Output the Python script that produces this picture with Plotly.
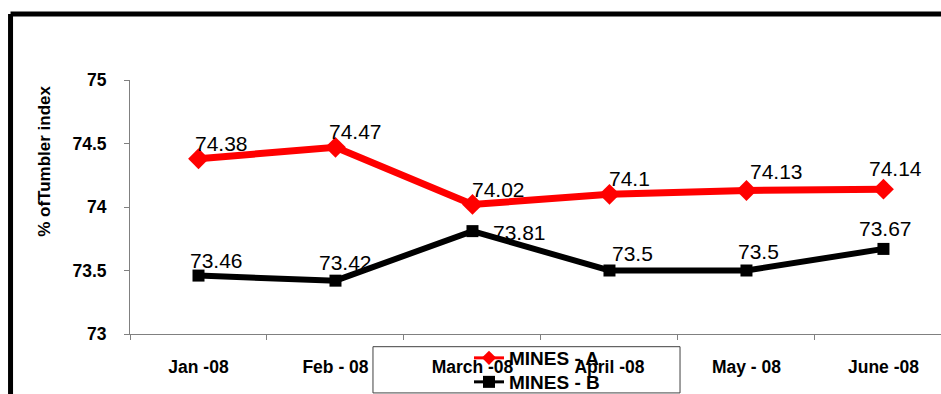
import plotly.graph_objects as go

months = ["Jan -08", "Feb - 08", "March -08", "April -08", "May - 08", "June -08"]
mines_a = [74.38, 74.47, 74.02, 74.1, 74.13, 74.14]
mines_b = [73.46, 73.42, 73.81, 73.5, 73.5, 73.67]
y_ticks = [73, 73.5, 74, 74.5, 75]

# pixel offsets of each value label from its marker
label_shift_a = [(23, 15), (20, 16), (26, 15), (20, 16), (30, 19), (12, 21)]
label_shift_b = [(18, 15), (10, 18), (47, -1), (23, 17), (12, 19), (2, 20)]

FONT = "Arial, Liberation Sans, sans-serif"
RED = "#ff0000"

fig = go.Figure()

fig.add_trace(go.Scatter(
    x=months, y=mines_a, name="MINES - A", showlegend=False,
    mode="lines+markers",
    line=dict(color=RED, width=7),
    marker=dict(symbol="diamond", size=16, color=RED),
    cliponaxis=False,
))
fig.add_trace(go.Scatter(
    x=months, y=mines_b, name="MINES - B", showlegend=False,
    mode="lines+markers",
    line=dict(color="black", width=6),
    marker=dict(symbol="square", size=12, color="black"),
    cliponaxis=False,
))

# legend entries with lighter key symbols
fig.add_trace(go.Scatter(
    x=[None], y=[None], name="MINES - A", legend="legend",
    mode="lines+markers",
    line=dict(color=RED, width=3),
    marker=dict(symbol="diamond", size=11, color=RED),
))
fig.add_trace(go.Scatter(
    x=[None], y=[None], name="MINES - B", legend="legend2",
    mode="lines+markers",
    line=dict(color="black", width=3),
    marker=dict(symbol="square", size=12, color="black"),
))

# value labels
for series, shifts in ((mines_a, label_shift_a), (mines_b, label_shift_b)):
    for m, v, (dx, dy) in zip(months, series, shifts):
        fig.add_annotation(
            x=m, y=v, text=f"{v:g}", showarrow=False,
            xshift=dx, yshift=dy,
            font=dict(family=FONT, size=21, color="black"),
        )

# outer chart frame (left and top edges)
fig.add_shape(type="line", xref="paper", yref="paper",
              x0=-0.1473, x1=1.05, y0=1.2598, y1=1.2598,
              line=dict(color="black", width=5))
fig.add_shape(type="line", xref="paper", yref="paper",
              x0=-0.1473, x1=-0.1473, y0=1.2598, y1=-0.3,
              line=dict(color="black", width=5))
# legend box
fig.add_shape(type="rect", xref="paper", yref="paper",
              x0=0.2996, x1=0.6782, y0=-0.05, y1=-0.232,
              line=dict(color="#404040", width=1))

fig.add_annotation(
    text="<b>% ofTumbler index</b>", textangle=-90,
    xref="paper", yref="paper", x=-0.1048, y=0.678,
    xanchor="center", yanchor="middle",
    showarrow=False, font=dict(family=FONT, size=17, color="black"),
)

legend_common = dict(
    xanchor="left", yanchor="middle",
    bgcolor="rgba(0,0,0,0)", borderwidth=0,
    font=dict(family=FONT, size=19, color="black", weight="bold"),
)

fig.update_layout(
    width=941, height=394,
    margin=dict(l=130, r=0, t=80, b=60, autoexpand=False),
    paper_bgcolor="white", plot_bgcolor="white",
    font=dict(family=FONT, color="black"),
    showlegend=True,
    legend=dict(x=0.418, y=-0.0945, **legend_common),
    legend2=dict(x=0.418, y=-0.189, **legend_common),
    xaxis=dict(
        type="category", range=[-0.5, 5.42], automargin=False,
        showline=True, linecolor="#808080", linewidth=1,
        ticks="outside", ticklen=5, tickcolor="#808080", tickson="boundaries",
        showgrid=False, zeroline=False,
        tickfont=dict(family=FONT, size=17.5, color="black", weight="bold"),
        ticklabelstandoff=17,
    ),
    yaxis=dict(
        range=[73, 75], tickvals=y_ticks, automargin=False,
        ticktext=[f"{v:g}" for v in y_ticks],
        showline=True, linecolor="#808080", linewidth=1,
        ticks="outside", ticklen=5, tickcolor="#808080",
        showgrid=False, zeroline=False,
        tickfont=dict(family=FONT, size=17.5, color="black", weight="bold"),
        ticklabelstandoff=14,
    ),
)

fig.write_html("out.html")
